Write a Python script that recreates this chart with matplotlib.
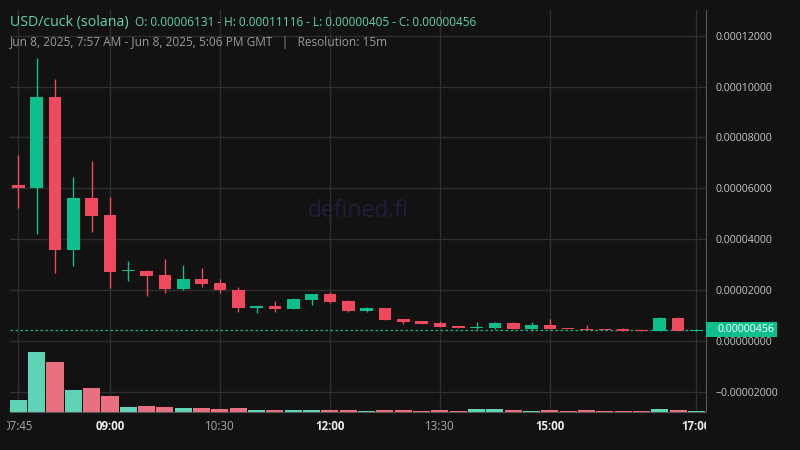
import matplotlib
matplotlib.use("Agg")
import matplotlib.pyplot as plt
from matplotlib.patches import Rectangle
from matplotlib.transforms import Bbox, TransformedBbox, blended_transform_factory

BG = "#121212"
GRID = "#2e2e2e"
UP = "#0ebf8e"
DOWN = "#f0485c"
VOL_UP = "#5ed3b6"
VOL_DOWN = "#e8707f"
plt.rcParams["font.family"] = ["Open Sans", "DejaVu Sans"]

# 15m candles, 07:45 -> 17:00
opens = [6.13e-5, 6.00e-5, 9.57e-5, 3.58e-5, 5.63e-5, 4.95e-5, 2.74e-5, 2.76e-5, 2.60e-5, 2.06e-5,
         2.44e-5, 2.28e-5, 2.02e-5, 1.31e-5, 1.38e-5, 1.27e-5, 1.63e-5, 1.85e-5, 1.57e-5, 1.19e-5,
         1.30e-5, 8.7e-6, 7.9e-6, 7.1e-6, 5.9e-6, 5.2e-6, 5.2e-6, 7.1e-6, 4.7e-6, 6.3e-6,
         4.8e-6, 4.7e-6, 4.6e-6, 4.6e-6, 4.3e-6, 4.1e-6, 9.1e-6, 4.1e-6]
highs = [7.32e-5, 1.1116e-4, 1.028e-4, 6.46e-5, 7.09e-5, 5.67e-5, 3.15e-5, 2.80e-5, 3.23e-5, 2.99e-5,
         2.87e-5, 2.44e-5, 2.13e-5, 1.38e-5, 1.57e-5, 1.69e-5, 1.85e-5, 1.93e-5, 1.61e-5, 1.34e-5,
         1.31e-5, 8.8e-6, 7.9e-6, 7.9e-6, 5.9e-6, 7.5e-6, 7.5e-6, 7.5e-6, 7.5e-6, 8.7e-6,
         4.8e-6, 6.3e-6, 4.6e-6, 5.1e-6, 4.3e-6, 9.4e-6, 9.4e-6, 4.6e-6]
lows = [5.21e-5, 4.19e-5, 2.69e-5, 2.96e-5, 4.30e-5, 2.10e-5, 2.37e-5, 1.78e-5, 1.90e-5, 2.02e-5,
        2.14e-5, 1.90e-5, 1.15e-5, 1.11e-5, 1.15e-5, 1.27e-5, 1.43e-5, 1.51e-5, 1.15e-5, 1.15e-5,
        8.3e-6, 6.8e-6, 6.8e-6, 5.6e-6, 5.2e-6, 4.7e-6, 4.7e-6, 4.7e-6, 4.05e-6, 4.7e-6,
        4.6e-6, 4.5e-6, 4.5e-6, 4.1e-6, 4.1e-6, 4.05e-6, 4.05e-6, 4.05e-6]
closes = [6.00e-5, 9.57e-5, 3.58e-5, 5.63e-5, 4.93e-5, 2.73e-5, 2.76e-5, 2.57e-5, 2.06e-5, 2.44e-5,
          2.26e-5, 2.02e-5, 1.31e-5, 1.38e-5, 1.26e-5, 1.65e-5, 1.85e-5, 1.55e-5, 1.19e-5, 1.30e-5,
          8.4e-6, 7.6e-6, 6.8e-6, 5.6e-6, 5.2e-6, 5.4e-6, 7.1e-6, 4.7e-6, 6.3e-6, 4.7e-6,
          4.6e-6, 4.5e-6, 4.5e-6, 4.1e-6, 4.1e-6, 9.1e-6, 4.1e-6, 4.56e-6]
volumes = [1170, 5970, 4970, 2170, 2370, 1570, 470, 570, 470, 370,
           370, 270, 370, 170, 170, 170, 170, 200, 200, 100,
           200, 200, 100, 200, 100, 230, 230, 200, 100, 200,
           100, 200, 100, 100, 100, 230, 200, 100]
vol_up = [1, 1, 0, 1, 0, 0, 1, 0, 0, 1,
          0, 0, 0, 1, 0, 1, 1, 0, 0, 1,
          0, 0, 0, 0, 0, 1, 1, 0, 1, 0,
          0, 0, 0, 0, 0, 1, 0, 1]
tick_pos = [0, 5, 11, 17, 23, 29, 37]
tick_labels = ["07:45", "09:00", "10:30", "12:00", "13:30", "15:00", "17:00"]
tick_bold = [False, True, False, True, False, True, True]
price_ticks = [-2e-5, 0, 2e-5, 4e-5, 6e-5, 8e-5, 1e-4, 1.2e-4]

fig = plt.figure(figsize=(8, 4.5), dpi=100)
fig.patch.set_facecolor(BG)
rect = [0.0125, 0.085, 0.87, 0.893]
ax = fig.add_axes(rect)
ax.set_facecolor(BG)

n = len(opens)
xs = list(range(n))
colors = [UP if c >= o else DOWN for o, c in zip(opens, closes)]
ax.vlines(xs, lows, highs, colors=colors, lw=1, zorder=2)
ax.bar(xs, [max(abs(c - o), 4e-7) for o, c in zip(opens, closes)], width=0.69,
       bottom=[min(o, c) for o, c in zip(opens, closes)], color=colors, zorder=3)

ax.set_xlim(-0.455, 37.52)
ax.set_ylim(-2.774e-5, 1.301e-4)
ax.set_yticks(price_ticks)
ax.set_yticklabels([f"{v:.8f}".replace("-", "\u2212") for v in price_ticks])
ax.yaxis.tick_right()
ax.set_xticks(tick_pos)
ax.set_xticklabels(tick_labels)
ax.tick_params(axis="y", length=0, pad=7, labelsize=7.6, labelcolor="#c8c8c8")
ax.tick_params(axis="x", length=0, pad=6, labelsize=8.3)
clip = TransformedBbox(Bbox([[-0.004, -1], [1, 2]]), ax.transAxes)
for lbl, bold in zip(ax.get_xticklabels(), tick_bold):
    lbl.set_color("#ececec" if bold else "#a8a8a8")
    lbl.set_fontweight("bold" if bold else "normal")
    lbl.set_clip_box(clip)
    lbl.set_clip_on(True)
ax.grid(True, color=GRID, lw=1)
ax.set_axisbelow(True)
for side in ["top", "left"]:
    ax.spines[side].set_visible(False)
for side in ["right", "bottom"]:
    ax.spines[side].set_color("#555555")

# last price line and label
last = closes[-1]
ax.axhline(last, color=UP, lw=0.9, ls=(0, (2, 2)), zorder=1)
tr = blended_transform_factory(ax.transAxes, ax.transData)
ax.add_patch(Rectangle((1.0, last - 3.03e-6), 0.102, 6.06e-6, transform=tr,
                       facecolor=UP, edgecolor="none", clip_on=False, zorder=5))
ax.text(1.016, last, f"{last:.8f}", transform=tr, color="white", fontsize=7.6,
        va="center", ha="left", zorder=6)

# volume
axv = fig.add_axes(rect, sharex=ax)
axv.set_facecolor("none")
axv.axis("off")
axv.bar(xs, volumes, width=0.93, color=[VOL_UP if u else VOL_DOWN for u in vol_up])
axv.set_ylim(0, max(volumes) / 0.1486)
axv.set_xlim(-0.455, 37.52)

ax.text(0.5, 0.5, "defined.fi", transform=ax.transAxes, color="#1e1f3a",
        fontsize=16.5, ha="center", va="center", zorder=0)

fig.text(0.0125, 0.943, "USD/cuck (solana)", color="#62d2b3", fontsize=10.2)
fig.text(0.169, 0.943, "O: 0.00006131 - H: 0.00011116 - L: 0.00000405 - C: 0.00000456",
         color="#62d2b3", fontsize=8.5)
fig.text(0.0125, 0.898, "Jun 8, 2025, 7:57 AM - Jun 8, 2025, 5:06 PM GMT   |   Resolution: 15m",
         color="#9a9a9a", fontsize=8.6)

fig.savefig("out.png", facecolor=BG)
